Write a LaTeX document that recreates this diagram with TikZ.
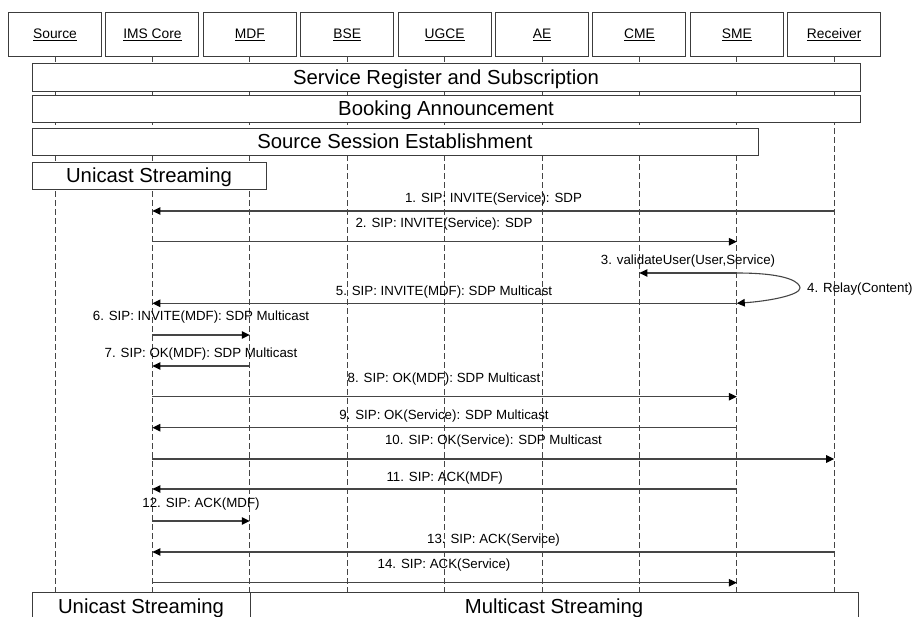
\documentclass[tikz,border=0pt]{standalone}
\usepackage{fontspec}
\setmainfont{Liberation Sans}
\usetikzlibrary{arrows.meta}
\definecolor{linegray}{HTML}{454545}
\definecolor{boxgray}{HTML}{3C3C3C}
\begin{document}
\begin{tikzpicture}[x=1pt,y=-1pt,
  head/.style={draw=boxgray, line width=0.9pt, minimum width=93pt, minimum height=44pt,
    inner sep=0pt, text height=9.8pt, text depth=0pt, font=\fontsize{13.8}{16}\selectfont},
  bar/.style={draw=boxgray, line width=0.9pt, fill=white, inner sep=0pt,
    text height=14.5pt, text depth=0pt, font=\fontsize{20.3}{24}\selectfont},
  life/.style={draw=linegray, line width=0.9pt, dash pattern=on 6pt off 3pt},
  msg/.style={draw=linegray, line width=1.1pt, -{Triangle[length=8pt,width=7.5pt,color=black]}},
  lbl/.style={inner sep=0pt, text height=9.5pt, text depth=0pt, font=\fontsize{13.3}{15}\selectfont},
]
\useasboundingbox (0,0) rectangle (916,617);

% participants
\node[head] (hSrc) at (55,34)    {\underline{Source}};
\node[head] (hIms) at (152.4,34) {\underline{IMS Core}};
\node[head] (hMdf) at (249.8,34) {\underline{MDF}};
\node[head] (hBse) at (347.2,34) {\underline{BSE}};
\node[head] (hUgc) at (444.6,34) {\underline{UGCE}};
\node[head] (hAe)  at (542,34)   {\underline{AE}};
\node[head] (hCme) at (639.4,34) {\underline{CME}};
\node[head] (hSme) at (736.8,34) {\underline{SME}};
\node[head] (hRcv) at (834.2,34) {\underline{Receiver}};

% lifelines
\coordinate (bottom) at (0,592);
\foreach \p in {hSrc,hIms,hMdf,hBse,hUgc,hAe,hCme,hSme,hRcv}
  \draw[life] (\p.south) -- (\p.south |- bottom);

% phase bars
\node[bar, minimum width=828pt, minimum height=28pt] (svc)  at (446,77)    {Service Register and Subscription};
\node[bar, minimum width=828pt, minimum height=27pt] (book) at (446,108.5) {Booking Announcement};
\node[bar, minimum width=726pt, minimum height=27pt] (sse)  at (395,141.5) {Source Session Establishment};
\node[bar, minimum width=234pt, minimum height=27pt] (uniA) at (149,175.5) {Unicast Streaming};
\node[bar, minimum width=218pt, minimum height=28pt] (uniB) at (141,606)   {Unicast Streaming};
\node[bar, minimum width=608pt, minimum height=28pt] (mul)  at (554,606)   {Multicast Streaming};

% message rows
\coordinate (r1)  at (0,211);
\coordinate (r2)  at (0,241.7);
\coordinate (r3)  at (0,273);
\coordinate (r5)  at (0,303.3);
\coordinate (r6)  at (0,335);
\coordinate (r7)  at (0,366);
\coordinate (r8)  at (0,396.7);
\coordinate (r9)  at (0,427.7);
\coordinate (r10) at (0,459);
\coordinate (r11) at (0,489);
\coordinate (r12) at (0,521);
\coordinate (r13) at (0,552);
\coordinate (r14) at (0,582.7);

% messages
\draw[msg] (hRcv |- r1)  -- (hIms |- r1);
\draw[msg] (hIms |- r2)  -- (hSme |- r2);
\draw[msg] (hSme |- r3)  -- (hCme |- r3);
\draw[msg] (hSme |- r3) .. controls (790,273) and (800,283) .. (800,288)
                        .. controls (800,295) and (770,301) .. (hSme |- r5);
\draw[msg] (hSme |- r5)  -- (hIms |- r5);
\draw[msg] (hIms |- r6)  -- (hMdf |- r6);
\draw[msg] (hMdf |- r7)  -- (hIms |- r7);
\draw[msg] (hIms |- r8)  -- (hSme |- r8);
\draw[msg] (hSme |- r9)  -- (hIms |- r9);
\draw[msg] (hIms |- r10) -- (hRcv |- r10);
\draw[msg] (hSme |- r11) -- (hIms |- r11);
\draw[msg] (hIms |- r12) -- (hMdf |- r12);
\draw[msg] (hRcv |- r13) -- (hIms |- r13);
\draw[msg] (hIms |- r14) -- (hSme |- r14);

% message labels
\node[lbl] (l1)  at (493.5,198)   {1. SIP: INVITE(Service): SDP};
\node[lbl] (l2)  at (444,223)     {2. SIP: INVITE(Service): SDP};
\node[lbl] (l3)  at (688,260)     {3. validateUser(User,Service)};
\node[lbl, anchor=west] (l4) at (807,288) {4. Relay(Content)};
\node[lbl] (l5)  at (444,291)     {5. SIP: INVITE(MDF): SDP Multicast};
\node[lbl] (l6)  at (201,316)     {6. SIP: INVITE(MDF): SDP Multicast};
\node[lbl] (l7)  at (201,352.7)   {7. SIP: OK(MDF): SDP Multicast};
\node[lbl] (l8)  at (444,378)     {8. SIP: OK(MDF): SDP Multicast};
\node[lbl] (l9)  at (444,415)     {9. SIP: OK(Service): SDP Multicast};
\node[lbl] (l10) at (493.5,440)   {10. SIP: OK(Service): SDP Multicast};
\node[lbl] (l11) at (444.7,477)   {11. SIP: ACK(MDF)};
\node[lbl] (l12) at (201,503)     {12. SIP: ACK(MDF)};
\node[lbl] (l13) at (493.5,539)   {13. SIP: ACK(Service)};
\node[lbl] (l14) at (444,564)     {14. SIP: ACK(Service)};
\end{tikzpicture}
\end{document}
